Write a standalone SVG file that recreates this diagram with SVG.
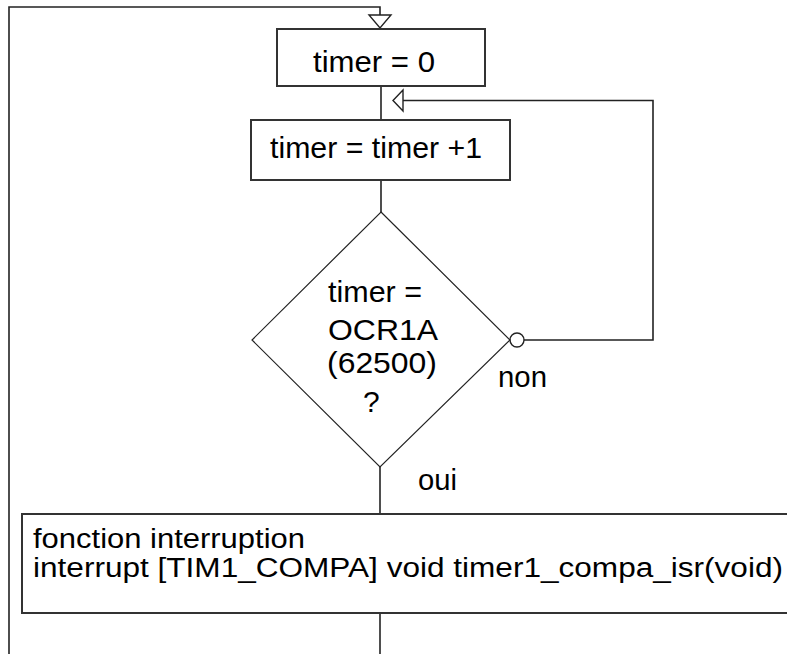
<svg xmlns="http://www.w3.org/2000/svg" width="787" height="654" viewBox="0 0 787 654">
<style>
.box{fill:#fff;stroke:#333;stroke-width:2}
.dia{fill:#fff;stroke:#222;stroke-width:1.2}
.ln{fill:none;stroke:#222;stroke-width:1.6}
.arr{fill:#fff;stroke:#222;stroke-width:1.4}
text{font-family:"Liberation Sans",Arial,sans-serif;font-size:30px;fill:#000}
.sm{font-size:27px}
</style>
<rect width="787" height="654" fill="#fff"/>
<g id="connectors">
<polyline class="ln" points="380,654 380,613"/>
<polyline class="ln" points="9,654 9,7 380,7 380,28"/>
<polygon class="arr" points="369,15 391,15 380,28"/>
<line class="ln" x1="381" y1="86" x2="381" y2="120"/>
<polyline class="ln" points="524,340 653,340 653,100.5 403,100.5"/>
<polygon class="arr" points="403,90 403,111 393,100.5"/>
<line class="ln" x1="381" y1="180" x2="381" y2="212"/>
<line class="ln" x1="380" y1="467" x2="380" y2="514"/>
<circle class="arr" cx="517" cy="340" r="7"/>
<text x="498" y="387" textLength="49" lengthAdjust="spacingAndGlyphs">non</text>
<text x="418" y="490" textLength="39" lengthAdjust="spacingAndGlyphs">oui</text>
</g>
<g id="n1">
<rect class="box" x="277" y="29" width="208" height="57"/>
<text x="313" y="72" textLength="122" lengthAdjust="spacingAndGlyphs">timer = 0</text>
</g>
<g id="n2">
<rect class="box" x="251" y="120" width="259" height="60"/>
<text x="270" y="158" textLength="212" lengthAdjust="spacingAndGlyphs">timer = timer +1</text>
</g>
<g id="n3">
<polygon class="dia" points="381,212 510,340 380,467 252,340"/>
<text x="328" y="302" textLength="94" lengthAdjust="spacingAndGlyphs">timer =</text>
<text x="328" y="340" textLength="110" lengthAdjust="spacingAndGlyphs">OCR1A</text>
<text x="327" y="373" textLength="110" lengthAdjust="spacingAndGlyphs">(62500)</text>
<text x="363" y="412">?</text>
</g>
<g id="n4">
<rect class="box" x="22" y="514" width="780" height="99"/>
<text class="sm" x="33" y="548" textLength="272" lengthAdjust="spacingAndGlyphs">fonction interruption</text>
<text class="sm" x="33" y="577" textLength="750" lengthAdjust="spacingAndGlyphs">interrupt [TIM1_COMPA] void timer1_compa_isr(void)</text>
</g>
</svg>
